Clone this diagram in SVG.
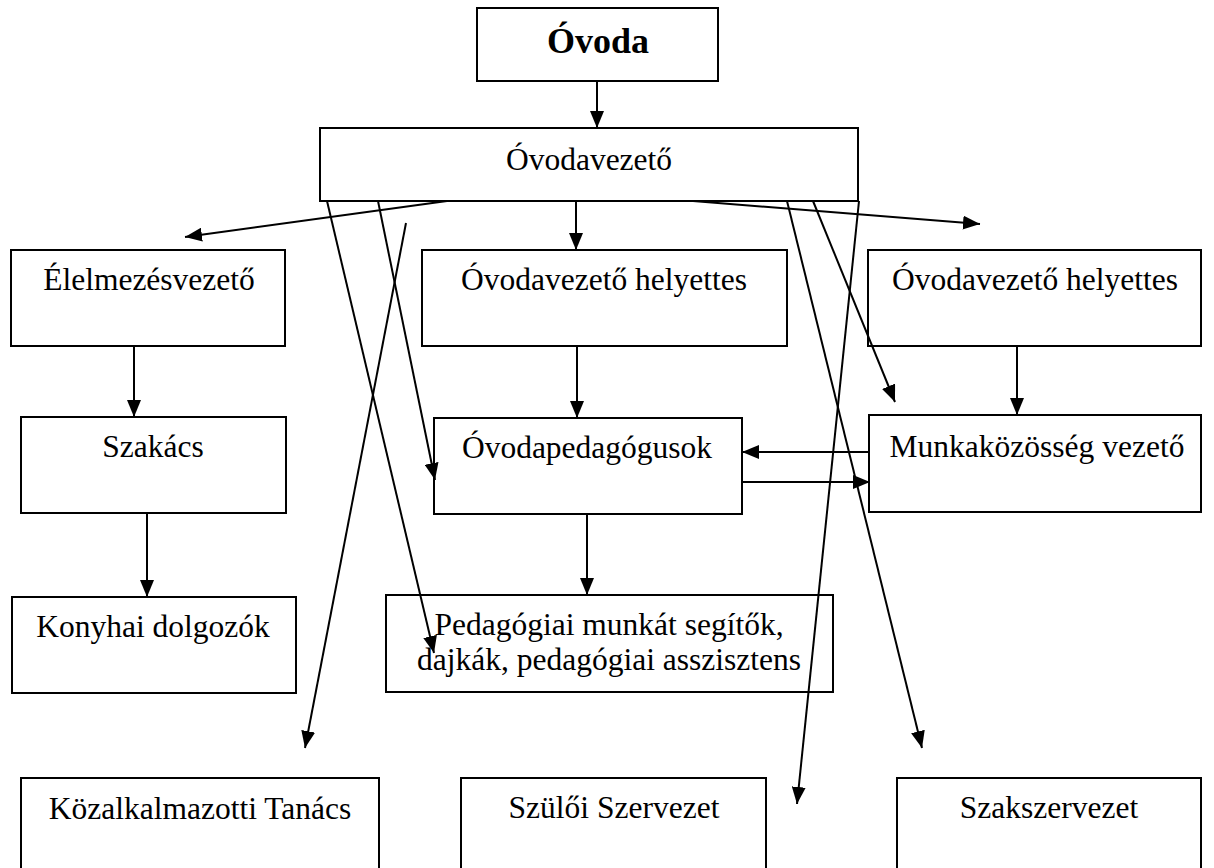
<svg xmlns="http://www.w3.org/2000/svg" width="1214" height="868" viewBox="0 0 1214 868">
<style>
.box{fill:#fff;stroke:#000;stroke-width:2}
.t{font-family:"Liberation Serif","Times New Roman",serif;font-size:31.5px;fill:#000;text-anchor:middle}
.tb{font-family:"Liberation Serif","Times New Roman",serif;font-size:36px;font-weight:bold;fill:#000;text-anchor:middle}
.c{stroke:#000;stroke-width:2;fill:none;marker-end:url(#ah)}
</style>
<defs>
<marker id="ah" markerUnits="userSpaceOnUse" markerWidth="18" markerHeight="14" viewBox="0 0 18 14" refX="17" refY="7" orient="auto">
<path d="M0,0 L17,7 L0,14 Z" fill="#000"/>
</marker>
</defs>
<rect width="1214" height="868" fill="#fff"/>
<g id="n-ovoda"><rect class="box" x="477" y="8" width="241" height="73"/><text class="tb" x="598" y="53">Óvoda</text></g>
<g id="n-ovodavezeto"><rect class="box" x="320" y="128" width="538" height="73"/><text class="t" x="589" y="170">Óvodavezető</text></g>
<g id="n-elelmezes"><rect class="box" x="11" y="250" width="274" height="96"/><text class="t" x="149" y="290">Élelmezésvezető</text></g>
<g id="n-helyettes1"><rect class="box" x="422" y="250" width="365" height="96"/><text class="t" x="604" y="290">Óvodavezető helyettes</text></g>
<g id="n-helyettes2"><rect class="box" x="868" y="250" width="333" height="96"/><text class="t" x="1035" y="290">Óvodavezető helyettes</text></g>
<g id="n-szakacs"><rect class="box" x="21" y="417" width="265" height="96"/><text class="t" x="153" y="457">Szakács</text></g>
<g id="n-ovodaped"><rect class="box" x="434" y="418" width="308" height="96"/><text class="t" x="587" y="458">Óvodapedagógusok</text></g>
<g id="n-munkakozosseg"><rect class="box" x="869" y="415" width="332" height="97"/><text class="t" x="1037" y="457">Munkaközösség vezető</text></g>
<g id="n-konyhai"><rect class="box" x="12" y="597" width="284" height="96"/><text class="t" x="153" y="637">Konyhai dolgozók</text></g>
<g id="n-pedagogiai"><rect class="box" x="386" y="595" width="447" height="97"/><text class="t" x="609" y="635">Pedagógiai munkát segítők,</text><text class="t" x="609" y="670">dajkák, pedagógiai asszisztens</text></g>
<g id="n-kozalk"><rect class="box" x="21" y="778" width="358" height="100"/><text class="t" x="200" y="819">Közalkalmazotti Tanács</text></g>
<g id="n-szuloi"><rect class="box" x="461" y="778" width="305" height="100"/><text class="t" x="614" y="818">Szülői Szervezet</text></g>
<g id="n-szakszervezet"><rect class="box" x="897" y="778" width="304" height="100"/><text class="t" x="1049" y="818">Szakszervezet</text></g>
<g id="connectors">
<line class="c" x1="597" y1="81" x2="597" y2="128"/>
<line class="c" x1="576" y1="201" x2="576" y2="250"/>
<line class="c" x1="447" y1="201" x2="185" y2="237"/>
<line class="c" x1="693" y1="201" x2="980" y2="224"/>
<line class="c" x1="327" y1="201" x2="434" y2="653"/>
<line class="c" x1="378" y1="201" x2="435" y2="480"/>
<line class="c" x1="406" y1="223" x2="305" y2="748"/>
<line class="c" x1="787" y1="201" x2="922" y2="748"/>
<line class="c" x1="813" y1="201" x2="895" y2="402"/>
<line class="c" x1="859" y1="201" x2="797" y2="804"/>
<line class="c" x1="134" y1="346" x2="134" y2="417"/>
<line class="c" x1="147" y1="513" x2="147" y2="597"/>
<line class="c" x1="577" y1="346" x2="577" y2="418"/>
<line class="c" x1="587" y1="514" x2="587" y2="595"/>
<line class="c" x1="1017" y1="346" x2="1017" y2="415"/>
<line class="c" x1="870" y1="452" x2="742" y2="452"/>
<line class="c" x1="742" y1="482" x2="870" y2="482"/>
</g>
</svg>
